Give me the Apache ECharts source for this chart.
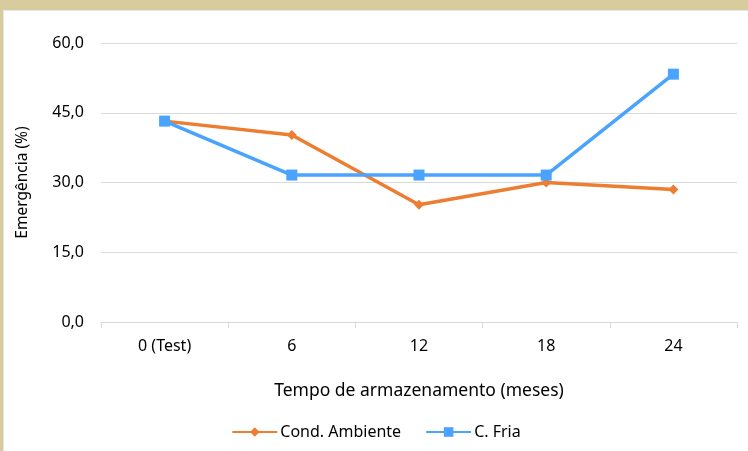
<!DOCTYPE html>
<html>
<head>
<meta charset="utf-8">
<script src="https://cdn.jsdelivr.net/npm/echarts@6/dist/echarts.min.js"></script>
<style>
html,body{margin:0;padding:0;background:#D8CB9D;width:748px;height:451px;overflow:hidden;}
#frame{position:absolute;left:3px;top:10px;width:745px;height:441px;background:#fff;border-left:1px solid #e6e6e6;border-top:1px solid #e6e6e6;}
#chart{position:absolute;left:0;top:0;width:744px;height:440px;}
</style>
</head>
<body>
<div id="frame"><div id="chart"></div></div>
<script>
const categories = ['0 (Test)', '6', '12', '18', '24'];
const condAmbiente = [43.2, 40.2, 25.2, 30.0, 28.5];
const cFria = [43.2, 31.6, 31.6, 31.6, 53.3];
const seriesNames = ['Cond. Ambiente', 'C. Fria'];
const xTitle = 'Tempo de armazenamento (meses)';
const yTitle = 'Emergência (%)';

const font = 'Noto Sans';
const chart = echarts.init(document.getElementById('chart'));
chart.setOption({
  animation: false,
  textStyle: {fontFamily: font},
  grid: {left: 97, right: 11, top: 32, bottom: 129, containLabel: false},
  legend: {
    bottom: 6,
    left: 'center',
    itemWidth: 45,
    itemHeight: 12,
    itemGap: 24,
    textStyle: {fontFamily: font, fontSize: 16, color: '#000', padding: [0,0,0,-2]},
    data: seriesNames
  },
  xAxis: {
    type: 'category',
    data: categories,
    boundaryGap: true,
    name: xTitle,
    nameLocation: 'middle',
    nameGap: 60,
    nameTextStyle: {fontFamily: font, fontSize: 17.5, color: '#000', verticalAlign: 'top'},
    axisLine: {lineStyle: {color: '#d9d9d9', width: 1}},
    axisTick: {show: true, length: 6, lineStyle: {color: '#d9d9d9'}},
    axisLabel: {fontFamily: font, fontSize: 16, color: '#000', margin: 16}
  },
  yAxis: {
    type: 'value',
    min: 0, max: 60, interval: 15,
    name: yTitle,
    nameLocation: 'middle',
    nameRotate: 90,
    nameGap: 70,
    nameTextStyle: {fontFamily: font, fontSize: 15.5, color: '#000'},
    axisLine: {show: false},
    axisTick: {show: false},
    splitLine: {lineStyle: {color: '#d9d9d9', width: 1}},
    axisLabel: {fontFamily: font, fontSize: 16, color: '#000', margin: 17,
      formatter: v => v.toFixed(1).replace('.', ',')}
  },
  series: [
    {
      name: seriesNames[0], type: 'line', data: condAmbiente,
      symbol: 'diamond', symbolSize: 10,
      lineStyle: {color: '#ED7D31', width: 3.5},
      itemStyle: {color: '#ED7D31'},
      z: 2
    },
    {
      name: seriesNames[1], type: 'line', data: cFria,
      symbol: 'rect', symbolSize: 11,
      lineStyle: {color: '#4AA3FF', width: 3.5},
      itemStyle: {color: '#4AA3FF'},
      z: 3
    }
  ]
});
</script>
</body>
</html>
